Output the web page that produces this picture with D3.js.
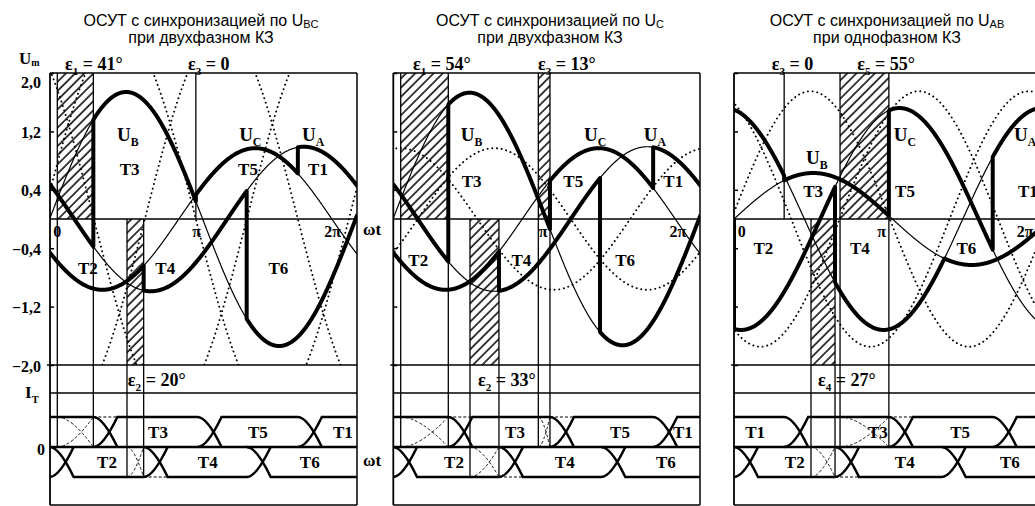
<!DOCTYPE html>
<html><head><meta charset="utf-8">
<script src="https://cdn.jsdelivr.net/npm/d3@7"></script>
<style>
body{margin:0;background:#fff}
svg{display:block;background:#fff}
.ttl{font-family:"Liberation Sans",Arial,sans-serif;font-size:16px;fill:#000}
.ser{font-family:"Liberation Serif","Times New Roman",serif;font-weight:bold;fill:#000}
</style></head><body>
<svg id="c" width="1035" height="506"></svg>
<script>
// ================= DATA =================
const titles = [
  ["ОСУТ с синхронизацией по U", "BC", "при двухфазном КЗ"],
  ["ОСУТ с синхронизацией по U", "C", "при двухфазном КЗ"],
  ["ОСУТ с синхронизацией по U", "AB", "при однофазном КЗ"]
];
const yTickValues = [2.0, 1.2, 0.4, -0.4, -1.2, -2.0];
// x tick labels: [text, angle in degrees]
const xTicks1 = [["0", 0], ["π", 164], ["2π", 324]];
const xTicks2 = [["π", 167.5], ["2π", 326]];
const xTicks3 = [["0", 8.7], ["π", 167.8], ["2π", 330.7]];

// sinusoids: [name, amplitude, angle of maximum (deg), style]
const sines1 = [["UA", 0.99, 290, "thin"], ["UB", 1.74, 81, "thin"], ["UC", 0.97, 233, "thin"],
  ["S1", 2.6, 73, "dot"], ["S2", 2.6, 193, "dot"], ["S3", 2.6, 313, "dot"]];
const sines2 = [["UA", 0.99, 290, "thin"], ["UB", 1.73, 81, "thin"], ["UC", 0.97, 233, "thin"],
  ["S1", 0.97, 110, "dot"], ["S2", 0.97, 0, "dot"]];
const sines3 = [["UA", 1.52, -10, "thin"], ["UB", 0.63, 90, "thin"], ["UC", 1.52, 188, "thin"],
  ["S1", 1.75, 87, "dot"], ["S2", 1.75, 210, "dot"], ["S3", 1.75, 335, "dot"]];

// thick control envelopes: [curve, from deg, to deg]
const upper1 = [["UA", -9, 42.4], ["UB", 42.4, 163], ["UC", 163, 283], ["UA", 283, 353]];
const lower1 = [["UC", -9, 101.6], ["UA", 101.6, 222.8], ["UB", 222.8, 353]];
const upper2 = [["UA", -9, 56], ["UB", 56, 175.6], ["UC", 175.6, 297], ["UA", 297, 353]];
const lower2 = [["UC", -9, 115.6], ["UA", 115.6, 234.5], ["UB", 234.5, 353]];
const upper3 = [["UA", 0, 57], ["UB", 57, 176], ["UC", 176, 294], ["UA", 294, 350]];
const lower3 = [["UB", 0, 0], ["UC", 0, 114.8], ["UA", 114.8, 239], ["UB", 239, 350]];

// delay angles: [subscript, value text, from deg, to deg, zone, label deg]
const eps1 = [["1", "41°", 0, 42.4, "up", 9], ["3", "0", 163, 163, "up", 153.8], ["2", "20°", 82, 101.6, "down", 83]];
const eps2 = [["1", "54°", 0, 56, "up", 14.5], ["3", "13°", 161.9, 175.6, "up", 161.5], ["2", "33°", 81.5, 115.6, "down", 91]];
const eps3 = [["3", "0", 57, 57, "up", 43], ["5", "55°", 120.5, 176, "up", 140], ["4", "27°", 87.5, 114.8, "down", 95.5]];

// thyristor current pulses: [name, start deg, end deg, label deg]
const odd1 = [["T1", -90, 42.4, null], ["T3", 42.4, 165, 118.5], ["T5", 165, 283, 236], ["T1", 283, 480, 336]];
const even1 = [["T6", -150, -9, null], ["T2", -9, 101.6, 58.5], ["T4", 101.6, 222.8, 177], ["T6", 222.8, 480, 297]];
const odd2 = [["T1", -90, 56, null], ["T3", 56, 175.6, 134.5], ["T5", 175.6, 297, 258], ["T1", 297, 480, 332]];
const even2 = [["T6", -150, -9, null], ["T2", -9, 115.6, 62.7], ["T4", 115.6, 236, 193], ["T6", 236, 480, 312]];
const odd3 = [["T1", -90, 57, 24], ["T3", 57, 176, 163.6], ["T5", 176, 294, 257], ["T1", 294, 480, null]];
const even3 = [["T6", -150, 0, null], ["T2", 0, 114.8, 69], ["T4", 114.8, 236, 194], ["T6", 236, 480, 313.6]];

// curve / interval labels: [text, subscript, deg, value]
const marks1 = [["U", "B", 83, 1.15], ["T3", "", 85, 0.68], ["U", "C", 227, 1.15], ["U", "A", 301, 1.15],
  ["T5", "", 224.4, 0.68], ["T1", "", 306.7, 0.68], ["T2", "", 36, -0.67], ["T4", "", 127, -0.67], ["T6", "", 260, -0.67]];
const marks2 = [["U", "B", 83.4, 1.15], ["T3", "", 83.4, 0.515], ["U", "C", 228.6, 1.15], ["U", "A", 299, 1.15],
  ["T5", "", 203, 0.515], ["T1", "", 320.7, 0.515], ["T2", "", 20.7, -0.56], ["T4", "", 142, -0.56], ["T6", "", 264, -0.56]];
const marks3 = [["U", "B", 94, 0.835], ["T3", "", 90, 0.38], ["U", "C", 194.3, 1.15], ["T5", "", 194.3, 0.38],
  ["U", "A", 330.7, 1.15], ["T1", "", 334, 0.38], ["T2", "", 33.3, -0.40], ["T4", "", 143, -0.40], ["T6", "", 264, -0.40]];

// ================= LAYOUT =================
const layouts = [
  {left: 50, right: 357, x0: 57.3, k: 0.85, tcx: 201, labels: true},
  {left: 393.3, right: 700, x0: 400.7, k: 0.85, tcx: 550, labels: false},
  {left: 734, right: 1045, x0: 734, k: 0.88, tcx: 887, labels: false}
];
const panels = [
  {title: titles[0], sines: sines1, upper: upper1, lower: lower1, eps: eps1, odd: odd1, even: even1, marks: marks1, xt: xTicks1},
  {title: titles[1], sines: sines2, upper: upper2, lower: lower2, eps: eps2, odd: odd2, even: even2, marks: marks2, xt: xTicks2},
  {title: titles[2], sines: sines3, upper: upper3, lower: lower3, eps: eps3, odd: odd3, even: even3, marks: marks3, xt: xTicks3}
];

const svg = d3.select("#c");
const defs = svg.append("defs");
const pat = defs.append("pattern").attr("id", "hatch").attr("patternUnits", "userSpaceOnUse")
  .attr("width", 6.5).attr("height", 10).attr("patternTransform", "rotate(45)");
pat.append("line").attr("x1", 1).attr("y1", 0).attr("x2", 1).attr("y2", 10).attr("stroke", "#000").attr("stroke-width", 1.5);

const yV = d3.scaleLinear().domain([-2, 2]).range([365, 73]);
const yI = d3.scaleLinear().domain([-1, 1]).range([477, 417]);
const Y_IT = 393, Y_BOT = 505, PW = 24;

function val(s, t) { return s[1] * Math.cos((t - s[2]) * Math.PI / 180); }

function label(g, x, y, main, sub, rest, size, anchor) {
  const t = g.append("text").attr("class", "ser").attr("x", x).attr("y", y)
    .attr("font-size", size).attr("text-anchor", anchor || "middle");
  t.append("tspan").text(main);
  if (sub) t.append("tspan").attr("font-size", size * 0.62).attr("dy", size * 0.28).text(sub);
  if (rest) t.append("tspan").attr("dy", sub ? -size * 0.28 : 0).text(rest);
  return t;
}
function line(g, x1, y1, x2, y2, w, dash) {
  const l = g.append("line").attr("x1", x1).attr("y1", y1).attr("x2", x2).attr("y2", y2)
    .attr("stroke", "#000").attr("stroke-width", w);
  if (dash) l.attr("stroke-dasharray", dash);
  return l;
}

panels.forEach((p, i) => {
  const L = layouts[i];
  const xs = d3.scaleLinear().domain([0, 180]).range([L.x0, L.x0 + 180 * L.k]);
  const dmin = xs.invert(L.left), dmax = xs.invert(L.right);
  const g = svg.append("g");
  defs.append("clipPath").attr("id", "cv" + i).append("rect")
    .attr("x", L.left).attr("y", yV(2)).attr("width", L.right - L.left).attr("height", yV(-2) - yV(2));
  defs.append("clipPath").attr("id", "ci" + i).append("rect")
    .attr("x", L.left).attr("y", Y_IT).attr("width", L.right - L.left).attr("height", Y_BOT - Y_IT + 2);

  // title
  const tt = g.append("text").attr("class", "ttl").attr("x", L.tcx).attr("y", 26).attr("text-anchor", "middle");
  tt.append("tspan").text(p.title[0]);
  tt.append("tspan").attr("font-size", 11).attr("dy", 2).text(p.title[1]);
  g.append("text").attr("class", "ttl").attr("x", L.tcx).attr("y", 43).attr("text-anchor", "middle").text(p.title[2]);

  // hatched delay zones
  p.eps.forEach(e => {
    if (e[3] > e[2]) g.append("rect").attr("x", xs(e[2])).attr("width", xs(e[3]) - xs(e[2]))
      .attr("y", e[4] === "up" ? yV(2) : yV(0)).attr("height", yV(0) - yV(2)).attr("fill", "url(#hatch)");
  });

  // frame
  line(g, L.left, yV(2), L.right, yV(2), 1.6);
  line(g, L.left - 3, yV(-2), L.right, yV(-2), 1.6);
  line(g, L.left, yV(0), L.right, yV(0), 1.5);
  line(g, L.left, Y_IT, L.right, Y_IT, 1.5);
  line(g, L.left, Y_BOT, L.right, Y_BOT, 1.5);
  line(g, L.left, yV(2), L.left, Y_BOT, 1.8);
  line(g, L.right, yV(2), L.right, Y_BOT, 1.5);

  // y axis ticks
  const ax = d3.axisLeft(yV).tickValues(yTickValues).tickSize(-4).tickPadding(9)
    .tickFormat(d => L.labels ? d3.format(".1f")(d).replace(".", ",") : "");
  const ag = g.append("g").attr("transform", `translate(${L.left},0)`).call(ax);
  ag.select(".domain").remove();
  ag.selectAll("line").attr("stroke-width", 1.5);
  ag.selectAll("text").attr("class", "ser").attr("font-size", 16).attr("dy", d => d === 2 ? "0.9em" : "0.38em");

  // delay lines
  p.eps.forEach(e => {
    if (e[3] === e[2]) { line(g, xs(e[2]), yV(2), xs(e[2]), yV(0), 1.3); return; }
    [e[2], e[3]].forEach(d => {
      if (e[4] === "up") line(g, xs(d), yV(2), xs(d), yI(0), 1.3);
      else line(g, xs(d), yV(0), xs(d), yI(-1), 1.3);
    });
  });

  // sinusoids
  const gv = g.append("g").attr("clip-path", `url(#cv${i})`);
  const ln = d3.line().x(d => xs(d[0])).y(d => yV(d[1]));
  const dom = d3.range(dmin - 2, dmax + 2, 0.5);
  const smap = {};
  p.sines.forEach(s => {
    smap[s[0]] = s;
    const path = gv.append("path").attr("d", ln(dom.map(t => [t, val(s, t)])))
      .attr("fill", "none").attr("stroke", "#000");
    if (s[3] === "dot") path.attr("stroke-width", 1.9).attr("stroke-dasharray", "0.1 4.6").attr("stroke-linecap", "round");
    else path.attr("stroke-width", 1.2);
  });
  // thick envelopes
  [p.upper, p.lower].forEach(segs => {
    const pts = [];
    segs.forEach(sg => {
      const s = smap[sg[0]];
      for (let t = sg[1]; t < sg[2]; t += 0.5) pts.push([t, val(s, t)]);
      pts.push([sg[2], val(s, sg[2])]);
    });
    gv.append("path").attr("d", ln(pts)).attr("fill", "none").attr("stroke", "#000")
      .attr("stroke-width", 4).attr("stroke-linejoin", "round");
  });

  // labels in voltage area
  p.marks.forEach(m => {
    if (m[1]) label(g, xs(m[2]), yV(m[3]) + 6, m[0], m[1], "", 19);
    else label(g, xs(m[2]), yV(m[3]) + 6, m[0], "", "", 17);
  });
  p.xt.forEach(t => label(g, xs(t[1]), 237, t[0], "", "", 16));
  p.eps.forEach(e => {
    if (e[4] === "up") label(g, xs(e[5]), 70, "ε", e[0], " = " + e[1], 18, "start");
    else label(g, xs(e[5]), 386, "ε", e[0], " = " + e[1], 18, "start");
  });

  // current pulses
  const gi = g.append("g").attr("clip-path", `url(#ci${i})`);
  line(gi, L.left, yI(0), L.right, yI(0), 2.5);
  function pulse(s, e, sign) {
    const yb = yI(0), yt = yI(sign), a = xs(s), b = xs(e), c = 0.4 * PW;
    return `M${a},${yb} Q${a + c},${yb} ${a + PW},${yt} L${b},${yt} Q${b + c},${yt} ${b + PW},${yb}`;
  }
  [[p.odd, 1], [p.even, -1]].forEach(([arr, sign]) => {
    arr.forEach(q => {
      gi.append("path").attr("d", pulse(q[1], q[2], sign)).attr("fill", "none")
        .attr("stroke", "#000").attr("stroke-width", 2.5);
      if (q[3] !== null) label(g, xs(q[3]), yI(sign * 0.5) + 6, q[0], "", "", 17);
    });
  });
  // dashed commutation marks inside delay zones
  p.eps.forEach(e => {
    if (e[3] <= e[2]) return;
    const sign = e[4] === "up" ? 1 : -1;
    const a = xs(e[2]), b = xs(e[3]), yb = yI(0), yt = yI(sign), c = 0.4 * (b - a);
    gi.append("path").attr("d", `M${a},${yb} Q${a + c},${yb} ${b},${yt} M${a},${yt} Q${a + c},${yt} ${b},${yb}`)
      .attr("fill", "none").attr("stroke", "#000").attr("stroke-width", 0.9).attr("stroke-dasharray", "3 2");
    line(gi, b, yt, b + PW, yt, 1, "3 2");
  });
});

// axis names
const um = svg.append("text").attr("class", "ser").attr("x", 19).attr("y", 64).attr("font-size", 17);
um.append("tspan").text("U");
um.append("tspan").attr("font-size", 10).attr("dy", 2).text("m");
label(svg, 25, 398, "I", "T", "", 17, "start");
label(svg, 41, 455, "0", "", "", 16);
label(svg, 372, 235, "ωt", "", "", 17);
label(svg, 372, 466, "ωt", "", "", 17);
</script></body></html>
